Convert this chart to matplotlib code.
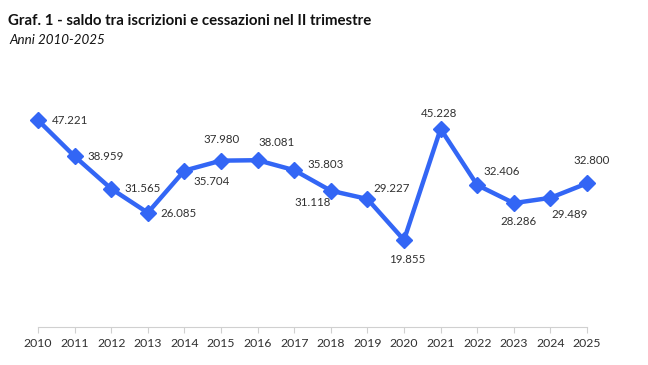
import matplotlib.pyplot as plt

anni = list(range(2010, 2026))
saldo = [47221, 38959, 31565, 26085, 35704, 37980, 38081, 35803,
         31118, 29227, 19855, 45228, 32406, 28286, 29489, 32800]
etichette = ["47.221", "38.959", "31.565", "26.085", "35.704", "37.980", "38.081", "35.803",
             "31.118", "29.227", "19.855", "45.228", "32.406", "28.286", "29.489", "32.800"]

# posizione etichette (offset in pixel, allineamento orizzontale)
pos = [(14, 0, 'left'), (13, 0, 'left'), (13, 0, 'left'), (13, -1, 'left'),
       (9, -11, 'left'), (1, 21, 'center'), (1, 18, 'left'), (13, 6, 'left'),
       (-18, -12, 'center'), (6, 10, 'left'), (3, -19, 'center'), (-2, 15, 'center'),
       (6, 14, 'left'), (5, -18, 'center'), (1, -17, 'left'), (5, 23, 'center')]

plt.rcParams['font.family'] = ['Lato', 'DejaVu Sans']
blu = '#3366f5'
testo = '#303030'
px = 0.72  # punti per pixel a 100 dpi

fig = plt.figure(figsize=(6.48, 3.65), dpi=100, facecolor='white')
ax = fig.add_axes([38/648, 38/365, 549/648, 219/365])

ax.plot(anni, saldo, color=blu, linewidth=3.2, marker='D', markersize=8.5,
        markeredgecolor=blu, clip_on=False, zorder=3)

for x, y, lab, (dx, dy, ha) in zip(anni, saldo, etichette, pos):
    ax.annotate(lab, (x, y), xytext=(dx * px, dy * px), textcoords='offset points',
                ha=ha, va='center', fontsize=8.3, color=testo)

ax.set_xlim(2010, 2025)
ax.set_ylim(0, 50000)
ax.set_xticks(anni)
ax.set_xticklabels([str(a) for a in anni], fontsize=8.8, color=testo)
ax.set_yticks([])
for s in ['top', 'right', 'left']:
    ax.spines[s].set_visible(False)
ax.spines['bottom'].set_color('#d0d0d0')
ax.tick_params(axis='x', length=4, color='#d0d0d0', pad=4)

fig.text(8/648, 1 - 21/365, "Graf. 1 - saldo tra iscrizioni e cessazioni nel II trimestre",
         fontsize=10.8, fontweight='bold', color='#111111', va='center')
fig.text(9/648, 1 - 40/365, "Anni 2010-2025", fontsize=9.6, style='italic',
         color='#111111', va='center')

fig.savefig('out.png', dpi=100, facecolor='white')
